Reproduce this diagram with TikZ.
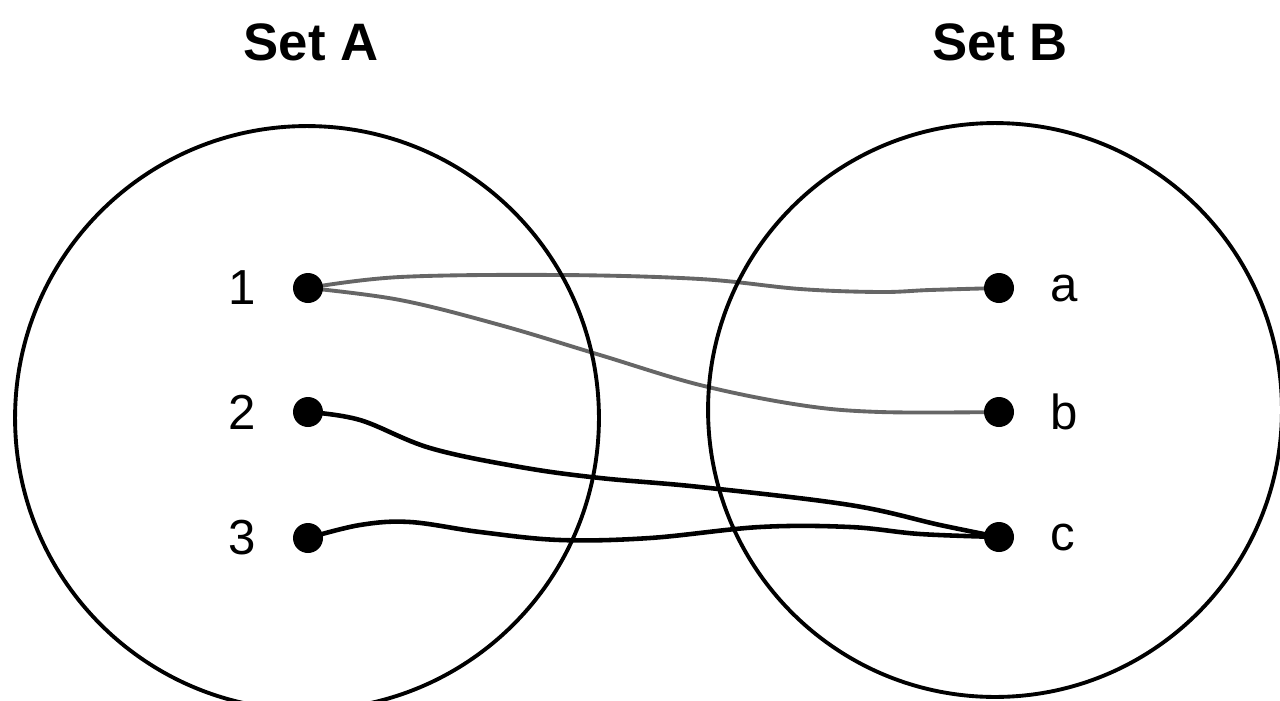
\documentclass[tikz,border=0pt]{standalone}
\usepackage{fontspec}
\setmainfont{Liberation Sans}
\usetikzlibrary{positioning, backgrounds}
\begin{document}
\begin{tikzpicture}[x=0.02cm, y=-0.02cm,
 dot/.style={circle, fill=black, inner sep=0pt, minimum size=0.6cm},
 lbl/.style={inner sep=0pt, font=\fontsize{28}{30}\selectfont},
 settitle/.style={font=\fontsize{30}{34}\selectfont\bfseries},
 setring/.style={draw, circle, line width=2.2pt, inner sep=0pt},
 link/.style={line width=2.6pt, line cap=round, line join=round},
 faint/.style={link, draw=black!60, line width=2.2pt}]
\useasboundingbox (0,0) rectangle (1280,700);
\clip (0,0) rectangle (1280,700);
% the two sets
\node[setring, minimum size=11.68cm] (setA) at (307,418) {};
\node[setring, minimum size=11.48cm] (setB) at (995,410) {};
\node[settitle] (titleA) at (311,42) {Set A};
\node[settitle] (titleB) at (1000,42) {Set B};
% elements
\node[dot] (n1) at (308,288) {};
\node[dot] (n2) at (308,412) {};
\node[dot] (n3) at (308,538) {};
\node[dot] (na) at (999,288) {};
\node[dot] (nb) at (999,412) {};
\node[dot] (nc) at (999,537) {};
\node[lbl, left=0.72cm of n1] (l1) {1};
\node[lbl, left=0.72cm of n2] (l2) {2};
\node[lbl, left=0.72cm of n3] (l3) {3};
\node[lbl, right=0.71cm of na] (la) {a};
\node[lbl, right=0.71cm of nb] (lb) {b};
\node[lbl, right=0.71cm of nc] (lc) {c};
% mapping
\begin{scope}[on background layer]
\draw[faint] plot[smooth, tension=0.6] coordinates {(n1) (400,277) (560,275) (700,279) (800,289) (880,292) (930,290) (na)};
\draw[faint] plot[smooth, tension=0.6] coordinates {(n1) (400,300) (500,325) (600,355) (700,385) (800,405) (880,412) (nb)};
\draw[link] plot[smooth, tension=0.6] coordinates {(n2) (360,420) (430,448) (520,467) (600,478) (700,487) (850,505) (940,525) (nc)};
\draw[link] plot[smooth, tension=0.6] coordinates {(n3) (360,525) (410,522) (480,532) (560,540) (650,538) (760,527) (850,527) (920,534) (nc)};
\end{scope}
\end{tikzpicture}
\end{document}
